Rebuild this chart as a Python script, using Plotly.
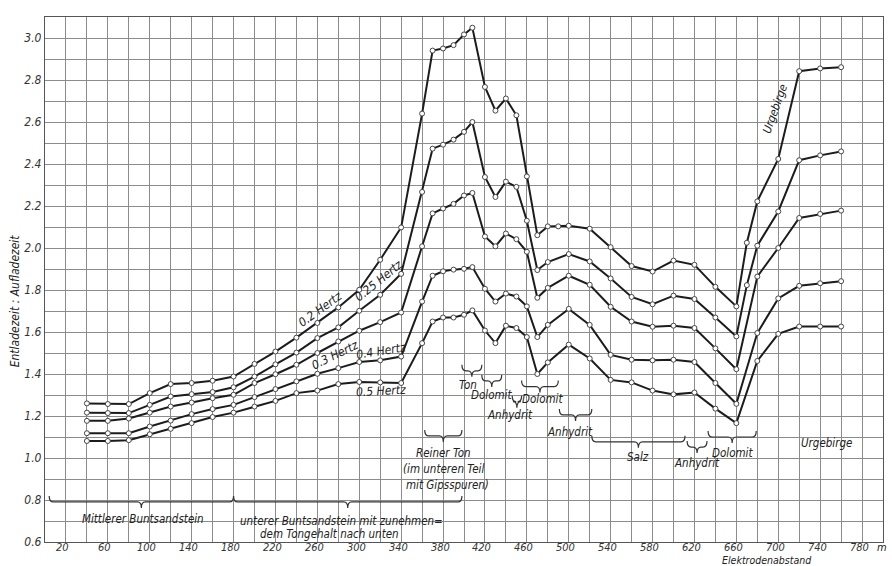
import plotly.graph_objects as go

# ---------------- data ----------------
x_base = [40, 60, 80, 100, 120, 140, 160, 180, 200, 220, 240,
          260, 280, 300, 320, 340,
          360, 370, 380, 390, 400, 408,
          420, 430, 440, 450, 460, 470, 480,
          500, 520, 540, 560, 580, 600, 620, 640, 660,
          680, 700, 720, 740, 760]

x_02 = [40, 60, 80, 100, 120, 140, 160, 180, 200, 220, 240,
        260, 280, 300, 320, 340,
        360, 370, 380, 390, 400, 408,
        420, 430, 440, 450, 460, 470, 480, 490,
        500, 520, 540, 560, 580, 600, 620, 640, 660, 670,
        680, 700, 720, 740, 760]
y_02 = [1.26, 1.257, 1.257, 1.309, 1.352, 1.357, 1.368, 1.388, 1.448, 1.507, 1.573,
        1.643, 1.717, 1.801, 1.944, 2.098,
        2.64, 2.94, 2.95, 2.966, 3.017, 3.049,
        2.767, 2.654, 2.712, 2.632, 2.341, 2.061, 2.103, 2.103,
        2.106, 2.092, 2.004, 1.914, 1.888, 1.94, 1.92, 1.815, 1.722, 2.025,
        2.222, 2.424, 2.842, 2.855, 2.861]

x_025 = [40, 60, 80, 100, 120, 140, 160, 180, 200, 220, 240,
         260, 280, 300, 320, 340,
         360, 370, 380, 390, 400, 408,
         420, 430, 440, 450, 460, 470, 480,
         500, 520, 540, 560, 580, 600, 620, 640, 660, 670,
         680, 700, 720, 740, 760]
y_025 = [1.216, 1.214, 1.214, 1.253, 1.293, 1.304, 1.314, 1.337, 1.388, 1.446, 1.502,
         1.571, 1.622, 1.701, 1.777, 1.877,
         2.267, 2.473, 2.492, 2.516, 2.553, 2.60,
         2.338, 2.243, 2.316, 2.291, 2.13, 1.895, 1.933,
         1.971, 1.936, 1.855, 1.767, 1.732, 1.773, 1.757, 1.669, 1.579, 1.823,
         2.011, 2.174, 2.418, 2.441, 2.46]

y_03 = [1.177, 1.177, 1.188, 1.216, 1.245, 1.264, 1.285, 1.301, 1.357, 1.399, 1.444,
        1.50, 1.555, 1.606, 1.647, 1.693,
        2.008, 2.165, 2.188, 2.21, 2.25, 2.262,
        2.055, 2.008, 2.069, 2.042, 1.982, 1.763, 1.81,
        1.868, 1.825, 1.72, 1.65, 1.625, 1.63, 1.619, 1.522, 1.423,
        1.864, 2.0, 2.143, 2.162, 2.178]

y_04 = [1.118, 1.118, 1.118, 1.15, 1.178, 1.209, 1.233, 1.253, 1.29, 1.328, 1.365,
        1.401, 1.428, 1.457, 1.465, 1.483,
        1.745, 1.868, 1.889, 1.897, 1.901, 1.909,
        1.806, 1.745, 1.783, 1.769, 1.722, 1.576, 1.634,
        1.71, 1.634, 1.491, 1.468, 1.465, 1.468, 1.457, 1.357, 1.258,
        1.595, 1.76, 1.82, 1.832, 1.842]

y_05 = [1.081, 1.081, 1.085, 1.113, 1.139, 1.166, 1.195, 1.216, 1.245, 1.272, 1.309,
        1.321, 1.352, 1.362, 1.36, 1.357,
        1.547, 1.65, 1.669, 1.669, 1.682, 1.703,
        1.607, 1.547, 1.63, 1.619, 1.576, 1.40, 1.455,
        1.54, 1.474, 1.372, 1.36, 1.321, 1.303, 1.312, 1.235, 1.166,
        1.462, 1.591, 1.626, 1.626, 1.626]

series = [
    ("0.2 Hertz", x_02, y_02),
    ("0.25 Hertz", x_025, y_025),
    ("0.3 Hertz", x_base, y_03),
    ("0.4 Hertz", x_base, y_04),
    ("0.5 Hertz", x_base, y_05),
]

x_ticks = list(range(20, 781, 40))
y_ticks = [0.6, 0.8, 1.0, 1.2, 1.4, 1.6, 1.8, 2.0, 2.2, 2.4, 2.6, 2.8, 3.0]
y_tick_text = ["0.6", "0.8", "1.0", "1.2", "1.4", "1.6", "1.8", "2.0", "2.2", "2.4", "2.6", "2.8", "3.0"]

# series labels written along the curves: (text, x, y, angle)
series_labels = [
    ("0.2 Hertz", 263, 1.71, -36),
    ("0.25 Hertz", 318, 1.845, -39),
    ("0.3 Hertz", 277, 1.49, -26),
    ("0.4 Hertz", 321, 1.51, -9),
    ("0.5 Hertz", 321, 1.318, -3),
]

# geological strata: (label, brace x0, brace x1, brace y, label x, label y)
strata = [
    ("Mittlerer Buntsandstein", 4, 180, 0.791, 94, 0.71),
    ("unterer Buntsandstein mit zunehmen=", 180, 398, 0.791, 283, 0.70),
    ("Reiner Ton", 362.5, 398, 1.105, 380, 1.024),
    ("Ton", 398, 417, 1.415, 403.6, 1.349),
    ("Dolomit", 417, 436, 1.367, 426, 1.30),
    ("Anhydrit", 446, 455, 1.268, 444, 1.205),
    ("Dolomit", 455, 490, 1.34, 475, 1.28),
    ("Anhydrit", 491, 522, 1.205, 501, 1.124),
    ("Salz", 522, 611, 1.077, 566, 1.005),
    ("Anhydrit", 613, 632, 1.052, 622, 0.976),
    ("Dolomit", 633, 679, 1.10, 656, 1.024),
]
extra_texts = [
    ("dem Tongehalt nach unten", 272, 0.64, 0),
    ("(im unteren Teil", 380, 0.948, 0),
    ("mit Gipsspuren)", 384, 0.872, 0),
    ("Urgebirge", 746.5, 1.072, 0),
    ("Urgebirge", 697, 2.66, -70),
]

# ---------------- figure ----------------
FONT = "Liberation Sans Narrow, DejaVu Sans Condensed, Liberation Sans, sans-serif"
INK = "#1c1c1c"
GRID = "#8c8c8c"

fig = go.Figure()
for name, xs, ys in series:
    fig.add_trace(go.Scatter(
        x=xs, y=ys, mode="lines+markers", name=name,
        line=dict(color=INK, width=2),
        marker=dict(symbol="circle", size=5, color="white",
                    line=dict(color="#444444", width=1)),
        showlegend=False,
    ))

# pixel-to-data scale helpers for brace drawing
PX_X = 837.5 / 800.0
PX_Y = 524.5 / 2.5


def brace_path(x0, x1, y, h_px=6, d_px=4):
    h = h_px / PX_Y
    d = d_px / PX_X
    xm = (x0 + x1) / 2
    return (f"M {x0},{y + h} Q {x0},{y} {x0 + d},{y} L {xm - d},{y} "
            f"Q {xm},{y} {xm},{y - h} Q {xm},{y} {xm + d},{y} "
            f"L {x1 - d},{y} Q {x1},{y} {x1},{y + h}")


shapes = []
annotations = []
for label, bx0, bx1, by, lx, ly in strata:
    shapes.append(dict(type="path", xref="x", yref="y",
                       path=brace_path(bx0, bx1, by),
                       line=dict(color="#333333", width=1.2)))
    annotations.append(dict(x=lx, y=ly, xref="x", yref="y", text=label,
                            showarrow=False, borderpad=0,
                            font=dict(size=11.5, color="#222")))

for text, tx, ty, ang in extra_texts:
    annotations.append(dict(x=tx, y=ty, xref="x", yref="y", text=text,
                            textangle=ang, showarrow=False, borderpad=0,
                            font=dict(size=11.5, color="#222")))

for text, tx, ty, ang in series_labels:
    annotations.append(dict(x=tx, y=ty, xref="x", yref="y", text=text,
                            textangle=ang, showarrow=False, borderpad=0,
                            font=dict(size=12, color="#222")))

# x tick labels, set tight under the axis as in the original drawing
for v in x_ticks:
    annotations.append(dict(x=v, y=0, xref="x", yref="paper", text=str(v),
                            xanchor="center", yanchor="middle", borderpad=0,
                            xshift=-3, yshift=-5, showarrow=False,
                            font=dict(size=11, color="#333")))

# axis titles
annotations.append(dict(x=-0.036, y=0.46, xref="paper", yref="paper",
                        xanchor="center", yanchor="middle",
                        text="Entladezeit : Aufladezeit", textangle=-90,
                        showarrow=False, font=dict(size=12, color="#222")))
annotations.append(dict(x=0.917, y=0, xref="paper", yref="paper",
                        text="Elektrodenabstand", yanchor="bottom", yshift=-25,
                        borderpad=0, showarrow=False,
                        font=dict(size=10.5, color="#222")))
annotations.append(dict(x=0.999, y=0, xref="paper", yref="paper",
                        text="m", xanchor="center", yanchor="middle", yshift=-5,
                        borderpad=0, showarrow=False,
                        font=dict(size=11, color="#222")))

fig.update_layout(
    width=892, height=566,
    margin=dict(l=45, r=9, t=17, b=24),
    paper_bgcolor="white", plot_bgcolor="white",
    font=dict(family=FONT, size=12, color="#222", style="italic"),
    shapes=shapes, annotations=annotations,
)
fig.update_xaxes(
    range=[0, 800], tickmode="array", tickvals=x_ticks, showticklabels=False,
    showgrid=True, gridcolor=GRID, gridwidth=1,
    minor=dict(dtick=20, tick0=0, showgrid=True, gridcolor=GRID, gridwidth=1),
    showline=True, linecolor="#555", linewidth=1.2, mirror=True,
    ticks="", zeroline=False,
)
fig.update_yaxes(
    range=[0.6, 3.1], tickmode="array", tickvals=y_ticks, ticktext=y_tick_text,
    showgrid=True, gridcolor=GRID, gridwidth=1,
    minor=dict(dtick=0.1, tick0=0.6, showgrid=True, gridcolor=GRID, gridwidth=1),
    showline=True, linecolor="#555", linewidth=1.2, mirror=True,
    ticks="", zeroline=False,
    tickfont=dict(family=FONT, size=12, color="#333", style="italic"),
)

fig.write_html(
    "out.html",
    config={"displayModeBar": False},
    post_script="document.body.style.margin='0';document.body.style.overflow='hidden';",
)
